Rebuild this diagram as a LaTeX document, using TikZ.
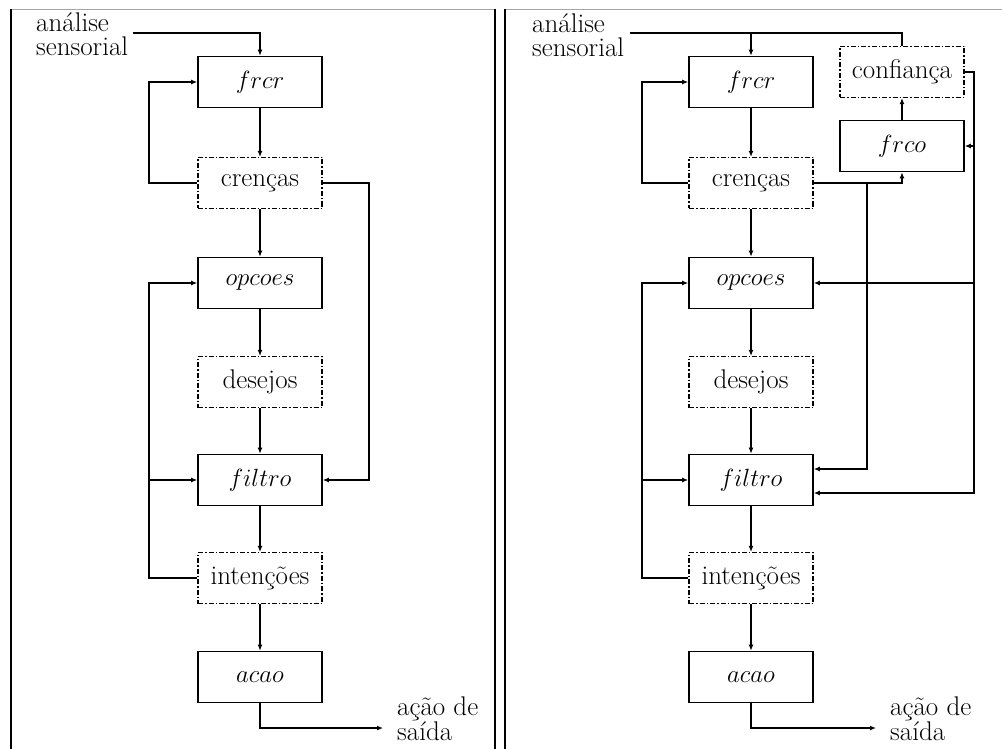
\documentclass[tikz,border=0pt]{standalone}
\usetikzlibrary{arrows.meta}
\newcommand{\lblfont}{\fontsize{27}{24}\selectfont}
\newcommand{\outfont}{\fontsize{27}{25}\selectfont}
\begin{document}
\begin{tikzpicture}[x=1pt,y=-1pt,
  >={Latex[length=6pt,width=5pt]},
  conn/.style={line width=1.5pt},
  proc/.style={draw, line width=1.6pt, minimum width=124pt, minimum height=51pt, inner sep=0pt, font=\lblfont},
  state/.style={draw, line width=1.1pt, dash pattern=on 5pt off 2pt on 1.5pt off 2pt, minimum width=124pt, minimum height=51pt, inner sep=0pt, font=\lblfont},
  txt/.style={align=left, inner sep=0pt, font=\lblfont},
  otxt/.style={align=left, inner sep=0pt, font=\outfont},
  framev/.style={line width=1.5pt},
  frameh/.style={line width=1.5pt, black!35}]
\useasboundingbox (0,0) rectangle (1002,749);
% frames
\draw[frameh] (11,9.5) -- (495,9.5);
\draw[frameh] (505,9.5) -- (1002,9.5);
\draw[framev] (11,9) -- (11,749);
\draw[framev] (495,9) -- (495,749);
\draw[framev] (505,9) -- (505,749);
% ---------- left panel ----------
\node[proc]  (frcrL) at (260,82)  {$frcr$};
\node[state] (crenL) at (260,183) {crenças};
\node[proc]  (opcL)  at (260,283) {$opcoes$};
\node[state] (desL)  at (260,382) {desejos};
\node[proc]  (filL)  at (260,480) {$filtro$};
\node[state] (intL)  at (260,578) {intenções};
\node[proc]  (acaoL) at (260,677) {$acao$};
\node[txt, anchor=base west] (inL)  at (36,56)  {análise\\sensorial};
\node[otxt, anchor=base west] (outL) at (397,740) {ação de\\saída};
\coordinate (inLs) at (133,33);
\coordinate (outLe) at (383,728);
\draw[conn,->] (inLs) -| (frcrL.north);
\draw[conn,->] (frcrL) -- (crenL);
\draw[conn,->] (crenL) -- (opcL);
\draw[conn,->] (opcL) -- (desL);
\draw[conn,->] (desL) -- (filL);
\draw[conn,->] (filL) -- (intL);
\draw[conn,->] (intL) -- (acaoL);
\draw[conn,->] (crenL.west) -- (149,183) |- (frcrL.west);
\draw[conn,->] (crenL.east) -- (369,183) |- (filL.east);
\draw[conn,->] (intL.west) -- (149,578) |- (opcL.west);
\draw[conn,->] (149,480) -- (filL.west);
\draw[conn,->] (acaoL.south) |- (outLe);
% ---------- right panel ----------
\node[proc]  (frcrR) at (751,82)  {$frcr$};
\node[state] (crenR) at (751,183) {crenças};
\node[proc]  (opcR)  at (751,283) {$opcoes$};
\node[state] (desR)  at (751,382) {desejos};
\node[proc]  (filR)  at (751,480) {$filtro$};
\node[state] (intR)  at (751,578) {intenções};
\node[proc]  (acaoR) at (751,677) {$acao$};
\node[state] (confR) at (902,72)  {confiança};
\node[proc]  (frcoR) at (902,146) {$frco$};
\node[txt, anchor=base west] (inR)  at (532,57)  {análise\\sensorial};
\node[otxt, anchor=base west] (outR) at (890,740) {ação de\\saída};
\coordinate (inRs) at (630,33);
\coordinate (outRe) at (876,728);
\draw[conn] (inRs) -| (confR.north);
\draw[conn,->] (frcrR.north |- inRs) -- (frcrR.north);
\draw[conn,->] (frcrR) -- (crenR);
\draw[conn,->] (crenR) -- (opcR);
\draw[conn,->] (opcR) -- (desR);
\draw[conn,->] (desR) -- (filR);
\draw[conn,->] (filR) -- (intR);
\draw[conn,->] (intR) -- (acaoR);
\draw[conn,->] (frcoR) -- (confR);
\draw[conn,->] (crenR.west) -- (642,183) |- (frcrR.west);
\draw[conn,->] (intR.west) -- (642,578) |- (opcR.west);
\draw[conn,->] (642,480) -- (filR.west);
\draw[conn,->] (crenR.east) -| (frcoR.south);
\draw[conn,->] (867,183) |- ([yshift=11pt]filR.east);
\draw[conn,->] (confR.east) -| (974,493) -- ([yshift=-13pt]filR.east);
\draw[conn,->] (974,146) -- (frcoR.east);
\draw[conn,->] (974,283) -- (opcR.east);
\draw[conn,->] (acaoR.south) |- (outRe);
\end{tikzpicture}
\end{document}
